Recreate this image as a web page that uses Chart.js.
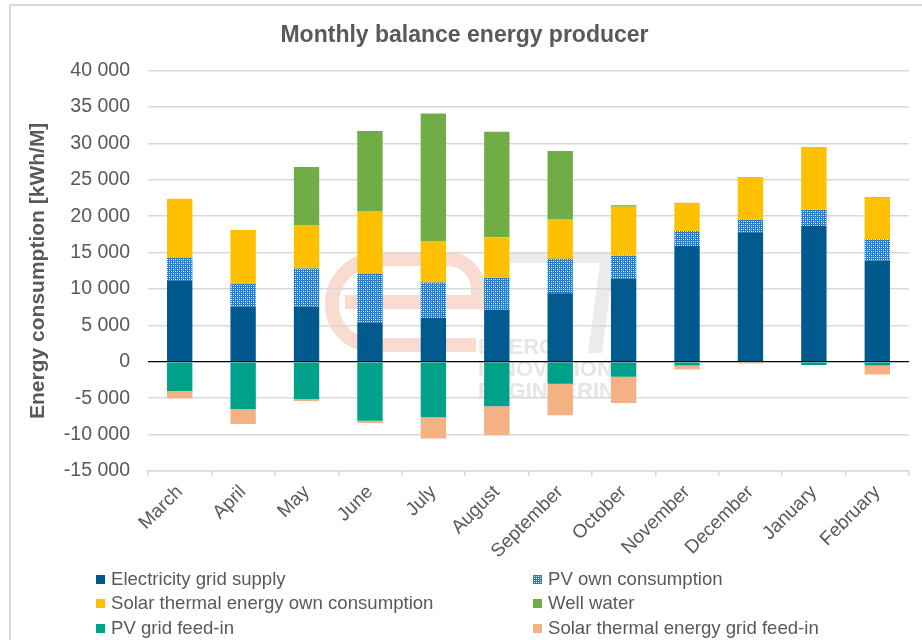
<!DOCTYPE html>
<html>
<head>
<meta charset="utf-8">
<script src="https://cdn.jsdelivr.net/npm/chart.js@4/dist/chart.umd.min.js"></script>
<style>
  html, body { margin: 0; padding: 0; background: #fff; overflow: hidden; }
  #wrap { position: relative; width: 922px; height: 640px; }
  #frame { position: absolute; left: 9px; top: 4px; width: 1000px; height: 1000px; border: 2px solid #d9d9d9; }
  canvas { position: absolute; left: 0; top: 0; }
  #legend { position: absolute; left: 0; top: 0; width: 922px; height: 640px; font-family: "Liberation Sans", Arial, sans-serif; font-size: 18.6px; color: #595959; }
  .item { position: absolute; height: 22px; line-height: 22px; white-space: nowrap; }
  .box { display: inline-block; width: 9px; height: 9px; margin-right: 6px; vertical-align: 1px; }
</style>
</head>
<body>
<div id="wrap">
  <div id="frame"></div>
  <canvas id="myChart" width="922" height="640"></canvas>
  <div id="legend"></div>
</div>
<script>
var months = ['March', 'April', 'May', 'June', 'July', 'August', 'September', 'October', 'November', 'December', 'January', 'February'];
var gridSupply = [11100, 7550, 7550, 5400, 6000, 7150, 9400, 11450, 15900, 17800, 18650, 13900];
var pvOwn = [3250, 3150, 5250, 6750, 4900, 4400, 4750, 3150, 2050, 1700, 2250, 2950];
var solarOwn = [8050, 7400, 6000, 8550, 5700, 5550, 5450, 6700, 3900, 5900, 8600, 5800];
var wellWater = [0, 0, 7950, 11000, 17500, 14500, 9350, 200, 0, 0, 0, 0];
var pvFeedIn = [-4000, -6500, -5150, -8100, -7600, -6100, -3000, -2050, -500, 0, -450, -500];
var solarFeedIn = [-1000, -2050, -250, -300, -2950, -4000, -4350, -3600, -550, -230, 0, -1250];
var seriesNames = ['Electricity grid supply', 'PV own consumption', 'Solar thermal energy own consumption', 'Well water', 'PV grid feed-in', 'Solar thermal energy grid feed-in'];
var watermarkLines = ['ENERGY', 'INNOVATION', 'ENGINEERING'];
var yMin = -15000, yMax = 40000, yStep = 5000;

// dotted blue fill for PV own consumption
var tile = document.createElement('canvas');
tile.width = 4; tile.height = 4;
var tc = tile.getContext('2d');
tc.fillStyle = '#2a7cc6'; tc.fillRect(0, 0, 4, 4);
tc.fillStyle = '#ffffff'; tc.fillRect(1, 1, 1, 1); tc.fillRect(3, 3, 1, 1);
tc.fillStyle = '#b4d4f0'; tc.fillRect(3, 1, 1, 1); tc.fillRect(1, 3, 1, 1);
var pvPattern = tc.createPattern(tile, 'repeat');

var colors = ['#005a8e', pvPattern, '#ffc000', '#70ad47', '#00a18a', '#f4b183'];
var seriesData = [gridSupply, pvOwn, solarOwn, wellWater, pvFeedIn, solarFeedIn];

function fmt(v) {
    var s = String(Math.abs(v)).replace(/\B(?=(\d{3})+(?!\d))/g, ' ');
    return (v < 0 ? '-' : '') + s;
}

// faint logo behind the plot
var watermark = {
    id: 'watermark',
    beforeDraw: function (chart) {
        var c = chart.ctx;
        c.save();
        c.strokeStyle = '#fadbd2';
        c.lineWidth = 14;
        c.beginPath();
        c.moveTo(345, 302);
        c.lineTo(478, 302);
        c.lineTo(478, 289);
        c.arcTo(478, 259, 448, 259, 30);
        c.lineTo(377, 259);
        c.arcTo(332, 259, 332, 304, 45);
        c.lineTo(332, 305);
        c.arcTo(332, 345, 372, 345, 40);
        c.lineTo(476, 345);
        c.stroke();
        c.fillStyle = '#ebebeb';
        c.beginPath();
        c.moveTo(505, 252);
        c.lineTo(606, 252);
        c.quadraticCurveTo(615, 252, 614, 262);
        c.lineTo(602, 353);
        c.lineTo(588, 353);
        c.lineTo(600, 263);
        c.lineTo(505, 263);
        c.closePath();
        c.fill();
        c.fillStyle = '#e6e6e6';
        c.font = 'bold 22px "Liberation Sans Narrow", "Liberation Sans", sans-serif';
        c.textBaseline = 'alphabetic';
        watermarkLines.forEach(function (t, i) {
            c.fillText(t, 478, 354 + i * 22);
        });
        c.restore();
    }
};

var datasets = seriesData.map(function (d, i) {
    return {
        label: seriesNames[i],
        data: d,
        backgroundColor: colors[i],
        borderWidth: 0,
        categoryPercentage: 0.8,
        barPercentage: 0.5
    };
});

Chart.defaults.font.family = '"Liberation Sans", Arial, sans-serif';
Chart.defaults.color = '#595959';

var ctx = document.getElementById('myChart').getContext('2d');
var myChart = new Chart(ctx, {
    type: 'bar',
    data: { labels: months, datasets: datasets },
    plugins: [watermark],
    options: {
        responsive: false,
        animation: false,
        layout: { padding: { left: 20, right: 13, top: 0, bottom: 0 } },
        plugins: {
            legend: { display: false },
            tooltip: { enabled: false },
            title: {
                display: true,
                text: 'Monthly balance energy producer',
                color: '#595959',
                font: { size: 23, weight: 'bold' },
                padding: { top: 22, bottom: 21 }
            }
        },
        scales: {
            x: {
                stacked: true,
                afterFit: function (scale) { scale.height = 169; },
                grid: { drawOnChartArea: false, drawTicks: true, tickLength: 5, color: '#d9d9d9', lineWidth: 1.5 },
                border: { display: true, color: '#d9d9d9', width: 1.5 },
                ticks: { minRotation: 45, maxRotation: 45, padding: 5, color: '#595959', font: { size: 19 } }
            },
            y: {
                stacked: true,
                min: yMin,
                max: yMax,
                afterFit: function (scale) { scale.width = 128; },
                grid: {
                    drawTicks: false,
                    color: function (c) { return c.tick && c.tick.value === 0 ? '#000000' : '#d9d9d9'; },
                    lineWidth: function (c) { return c.tick && c.tick.value === 0 ? 1.2 : 1.5; }
                },
                border: { display: false },
                ticks: { stepSize: yStep, padding: 18, color: '#595959', font: { size: 19.5 }, callback: function (v) { return fmt(v); } },
                title: {
                    display: true,
                    text: 'Energy consumption [kWh/M]',
                    color: '#595959',
                    font: { size: 21, weight: 'bold' },
                    padding: { top: 6, bottom: 0 }
                }
            }
        }
    }
});

var legend = document.getElementById('legend');
var legendCols = [96, 533];
var legendRows = [579, 603, 628];
seriesNames.forEach(function (name, i) {
    var item = document.createElement('div');
    item.className = 'item';
    item.style.left = legendCols[i % 2] + 'px';
    item.style.top = (legendRows[Math.floor(i / 2)] - 11) + 'px';
    var box = document.createElement('span');
    box.className = 'box';
    if (i === 1) {
        box.style.backgroundImage = 'url(' + tile.toDataURL() + ')';
    } else {
        box.style.background = colors[i];
    }
    item.appendChild(box);
    item.appendChild(document.createTextNode(name));
    legend.appendChild(item);
});
</script>
</body>
</html>
